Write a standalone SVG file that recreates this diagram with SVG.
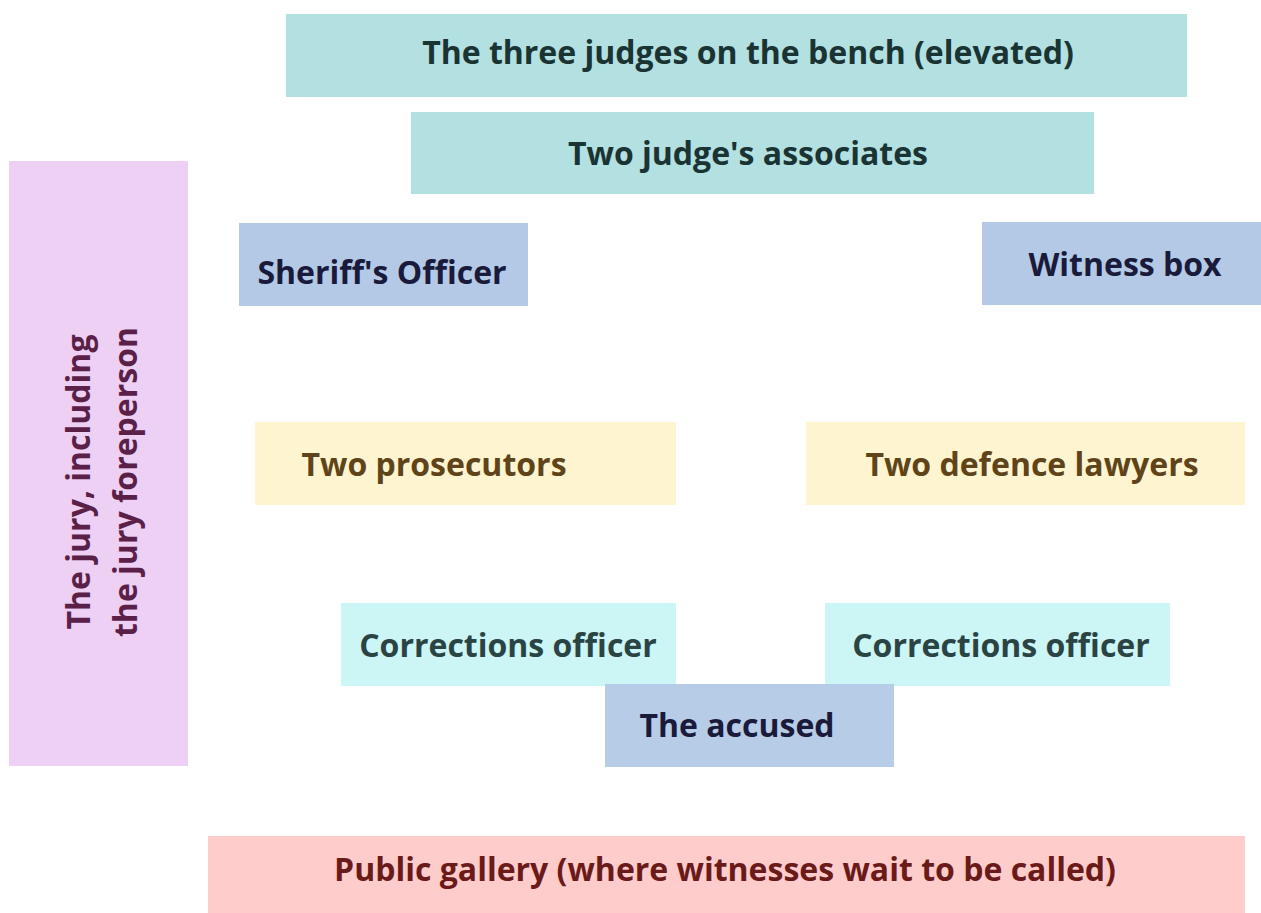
<svg xmlns="http://www.w3.org/2000/svg" width="1261" height="913" viewBox="0 0 1261 913">
<style>
text{font-family:"Open Sans","Noto Sans","Liberation Sans",sans-serif;font-weight:700;font-size:32px;text-anchor:middle}
.teal rect{fill:#b3e0e0}.teal text{fill:#1a3333}
.blue rect{fill:#b3c9e6}.blue text{fill:#1a1a3a}
.yel rect{fill:#fff4d0}.yel text{fill:#5e4418}
.cyan rect{fill:#ccf5f5}.cyan text{fill:#2a4444}
.pink rect{fill:#edd0f3}.pink text{fill:#5a2048}
.red rect{fill:#ffcccc}.red text{fill:#6b1a1a}
</style>
<rect width="1261" height="913" fill="#fff"/>
<g id="judges" class="teal"><rect x="286" y="14" width="901" height="83"/><text x="748" y="64">The three judges on the bench (elevated)</text></g>
<g id="associates" class="teal"><rect x="411" y="112" width="683" height="82"/><text x="748" y="165">Two judge's associates</text></g>
<g id="sheriff" class="blue"><rect x="239" y="223" width="289" height="83"/><text x="382" y="284">Sheriff's Officer</text></g>
<g id="witness" class="blue"><rect x="982" y="222" width="279" height="83"/><text x="1125" y="276">Witness box</text></g>
<g id="jury" class="pink"><rect x="9" y="161" width="179" height="605"/><text transform="translate(90,482) rotate(-90)"><tspan x="0" y="0">The jury, including</tspan><tspan x="0" y="47">the jury foreperson</tspan></text></g>
<g id="prosecutors" class="yel"><rect x="255" y="422" width="421" height="83"/><text x="434" y="476">Two prosecutors</text></g>
<g id="defence" class="yel"><rect x="806" y="422" width="439" height="83"/><text x="1032" y="476">Two defence lawyers</text></g>
<g id="corr1" class="cyan"><rect x="341" y="603" width="335" height="83"/><text x="508" y="657">Corrections officer</text></g>
<g id="corr2" class="cyan"><rect x="825" y="603" width="345" height="83"/><text x="1001" y="657">Corrections officer</text></g>
<g id="accused" class="blue"><rect x="605" y="684" width="289" height="83" opacity="0.95"/><text x="737" y="737">The accused</text></g>
<g id="gallery" class="red"><rect x="208" y="836" width="1037" height="77"/><text x="725" y="881">Public gallery (where witnesses wait to be called)</text></g>
<g id="connectors"/>
</svg>
